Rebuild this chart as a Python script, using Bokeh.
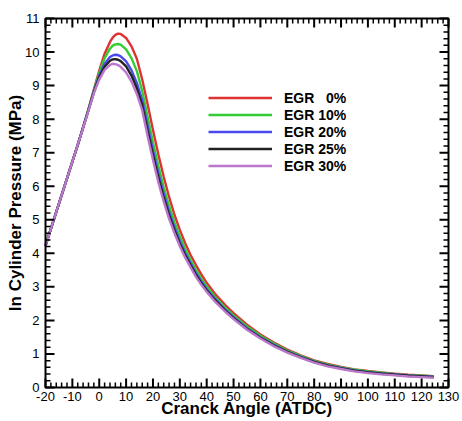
from bokeh.plotting import figure
from bokeh.models import Range1d, SingleIntervalTicker, Legend, LegendItem
from bokeh.embed import file_html
from bokeh.resources import INLINE

angles = [-20, -15, -10, -8, -6, -4, -2, 0, 2, 4, 5, 6, 7, 8, 10, 12, 14, 16, 18, 20,
          22, 24, 26, 28, 30, 32, 34, 36, 38, 40, 43, 47, 50, 55, 60, 65, 70, 75, 80, 85,
          90, 95, 100, 105, 110, 115, 120, 124.5]

egr0 = [4.23, 5.48, 6.73, 7.23, 7.76, 8.3, 8.88, 9.45, 9.95, 10.3, 10.43, 10.51, 10.55, 10.54,
        10.42, 10.17, 9.8, 9.18, 8.45, 7.68, 6.95, 6.28, 5.68, 5.15, 4.7, 4.3, 3.95, 3.65, 3.37,
        3.12, 2.8, 2.45, 2.22, 1.87, 1.58, 1.34, 1.13, 0.96, 0.81, 0.7, 0.61, 0.54, 0.49, 0.45,
        0.41, 0.38, 0.36, 0.34]
egr10 = [4.23, 5.48, 6.73, 7.23, 7.76, 8.3, 8.86, 9.38, 9.82, 10.1, 10.19, 10.23, 10.24, 10.22,
         10.08, 9.82, 9.43, 8.83, 8.07, 7.31, 6.61, 5.97, 5.41, 4.92, 4.5, 4.12, 3.8, 3.51, 3.24,
         3.01, 2.71, 2.37, 2.15, 1.82, 1.54, 1.31, 1.1, 0.94, 0.79, 0.68, 0.6, 0.53, 0.48, 0.44,
         0.4, 0.37, 0.35, 0.33]
egr20 = [4.23, 5.48, 6.73, 7.23, 7.75, 8.28, 8.82, 9.3, 9.65, 9.85, 9.9, 9.92, 9.91, 9.87,
         9.72, 9.46, 9.08, 8.56, 7.8, 7.06, 6.38, 5.77, 5.23, 4.77, 4.36, 4.0, 3.7, 3.41, 3.16,
         2.93, 2.65, 2.31, 2.1, 1.77, 1.5, 1.27, 1.07, 0.91, 0.77, 0.66, 0.58, 0.51, 0.46, 0.42,
         0.39, 0.36, 0.34, 0.32]
egr25 = [4.23, 5.48, 6.73, 7.23, 7.75, 8.27, 8.8, 9.25, 9.56, 9.74, 9.78, 9.79, 9.77, 9.73,
         9.57, 9.3, 8.92, 8.41, 7.64, 6.92, 6.25, 5.65, 5.13, 4.68, 4.28, 3.94, 3.64, 3.36, 3.11,
         2.89, 2.61, 2.28, 2.07, 1.74, 1.48, 1.25, 1.06, 0.9, 0.76, 0.65, 0.57, 0.5, 0.45, 0.41,
         0.38, 0.35, 0.33, 0.31]
egr30 = [4.23, 5.48, 6.73, 7.23, 7.74, 8.25, 8.77, 9.18, 9.47, 9.62, 9.65, 9.64, 9.61, 9.56,
         9.39, 9.12, 8.75, 8.26, 7.5, 6.78, 6.12, 5.54, 5.03, 4.6, 4.21, 3.87, 3.58, 3.3, 3.06,
         2.85, 2.57, 2.25, 2.04, 1.72, 1.46, 1.23, 1.04, 0.88, 0.74, 0.63, 0.55, 0.48, 0.43, 0.39,
         0.36, 0.33, 0.31, 0.29]

series_labels = ["EGR\u00a0\u00a0\u00a00%", "EGR 10%", "EGR 20%", "EGR 25%", "EGR 30%"]
series_values = [egr0, egr10, egr20, egr25, egr30]
colors = ["#dd3333", "#33cc33", "#4a4aee", "#222222", "#bb77cc"]

X_MIN, X_MAX = -20, 130
Y_MIN, Y_MAX = 0, 11
x_major = list(range(-20, 131, 10))
x_minor = [v for v in range(-20, 131, 2) if v % 10 != 0]
y_major = list(range(0, 12))
y_minor = [v / 5 for v in range(0, 56) if v % 5 != 0]
x_tick_labels = {-20: "-20", -10: "-10"}

FONT = "Liberation Sans"
W, H = 462, 421
BOX_W, BOX_H = 403, 369          # size of the drawn axis box in pixels
MARGIN = 12                      # frame extends this far beyond the box
ux = (X_MAX - X_MIN) / BOX_W
uy = (Y_MAX - Y_MIN) / BOX_H
MAJOR_PX, MINOR_PX = 9, 5

p = figure(width=W, height=H, output_backend="svg", toolbar_location=None,
           x_range=Range1d(X_MIN - MARGIN * ux, X_MAX + MARGIN * ux),
           y_range=Range1d(Y_MIN - MARGIN * uy, Y_MAX + MARGIN * uy),
           min_border_left=33, min_border_right=2, min_border_top=6, min_border_bottom=22,
           x_axis_label="Cranck Angle (ATDC)", y_axis_label="In Cylinder Pressure (MPa)")
p.grid.visible = False
p.outline_line_color = None

renderers = []
for vals, c in zip(series_values, colors):
    r = p.line(list(angles), list(vals), line_color=c, line_width=2.4)
    renderers.append(r)

# axis box
p.quad(left=[X_MIN], right=[X_MAX], bottom=[Y_MIN], top=[Y_MAX],
       fill_color=None, line_color="black", line_width=2)

# inward ticks on all four sides
def vticks(xs, y0, length, width):
    n = len(xs)
    p.segment(x0=[float(v) for v in xs], y0=[float(y0)] * n,
              x1=[float(v) for v in xs], y1=[float(y0 + length)] * n,
              line_color="black", line_width=width)

def hticks(ys, x0, length, width):
    n = len(ys)
    p.segment(x0=[float(x0)] * n, y0=[float(v) for v in ys],
              x1=[float(x0 + length)] * n, y1=[float(v) for v in ys],
              line_color="black", line_width=width)

vticks(x_major, Y_MIN, MAJOR_PX * uy, 2)
vticks(x_major, Y_MAX, -MAJOR_PX * uy, 2)
vticks(x_minor, Y_MIN, MINOR_PX * uy, 1.5)
vticks(x_minor, Y_MAX, -MINOR_PX * uy, 1.5)
hticks(y_major, X_MIN, MAJOR_PX * ux, 2)
hticks(y_major, X_MAX, -MAJOR_PX * ux, 2)
hticks(y_minor, X_MIN, MINOR_PX * ux, 1.5)
hticks(y_minor, X_MAX, -MINOR_PX * ux, 1.5)

p.xaxis.ticker = SingleIntervalTicker(interval=10, num_minor_ticks=5)
p.yaxis.ticker = SingleIntervalTicker(interval=1, num_minor_ticks=5)
p.xaxis.major_label_overrides = x_tick_labels

for ax in (p.xaxis[0], p.yaxis[0]):
    ax.axis_line_color = None
    ax.major_tick_in = 0
    ax.major_tick_out = 0
    ax.minor_tick_in = 0
    ax.minor_tick_out = 0
    ax.major_tick_line_color = None
    ax.minor_tick_line_color = None
    ax.major_label_text_font = FONT
    ax.major_label_text_font_size = "13px"
    ax.major_label_text_color = "black"
    ax.axis_label_text_font = FONT
    ax.axis_label_text_font_size = "17px"
    ax.axis_label_text_font_style = "bold"
    ax.axis_label_text_color = "black"

p.xaxis[0].major_label_standoff = 4 - MARGIN
p.xaxis[0].axis_label_standoff = -5
p.yaxis[0].major_label_standoff = 6 - MARGIN
p.yaxis[0].axis_label_standoff = -3

items = [LegendItem(label=lab, renderers=[r]) for lab, r in zip(series_labels, renderers)]
legend = Legend(items=items, location=(175, 225), orientation="vertical",
                glyph_width=64, glyph_height=17, label_height=17, spacing=0,
                label_standoff=12, padding=0, margin=0,
                border_line_color=None, background_fill_alpha=0,
                label_text_font=FONT, label_text_font_size="14px",
                label_text_font_style="bold", label_text_color="black")
p.add_layout(legend, "center")

open("out.html", "w").write(file_html(p, INLINE))
